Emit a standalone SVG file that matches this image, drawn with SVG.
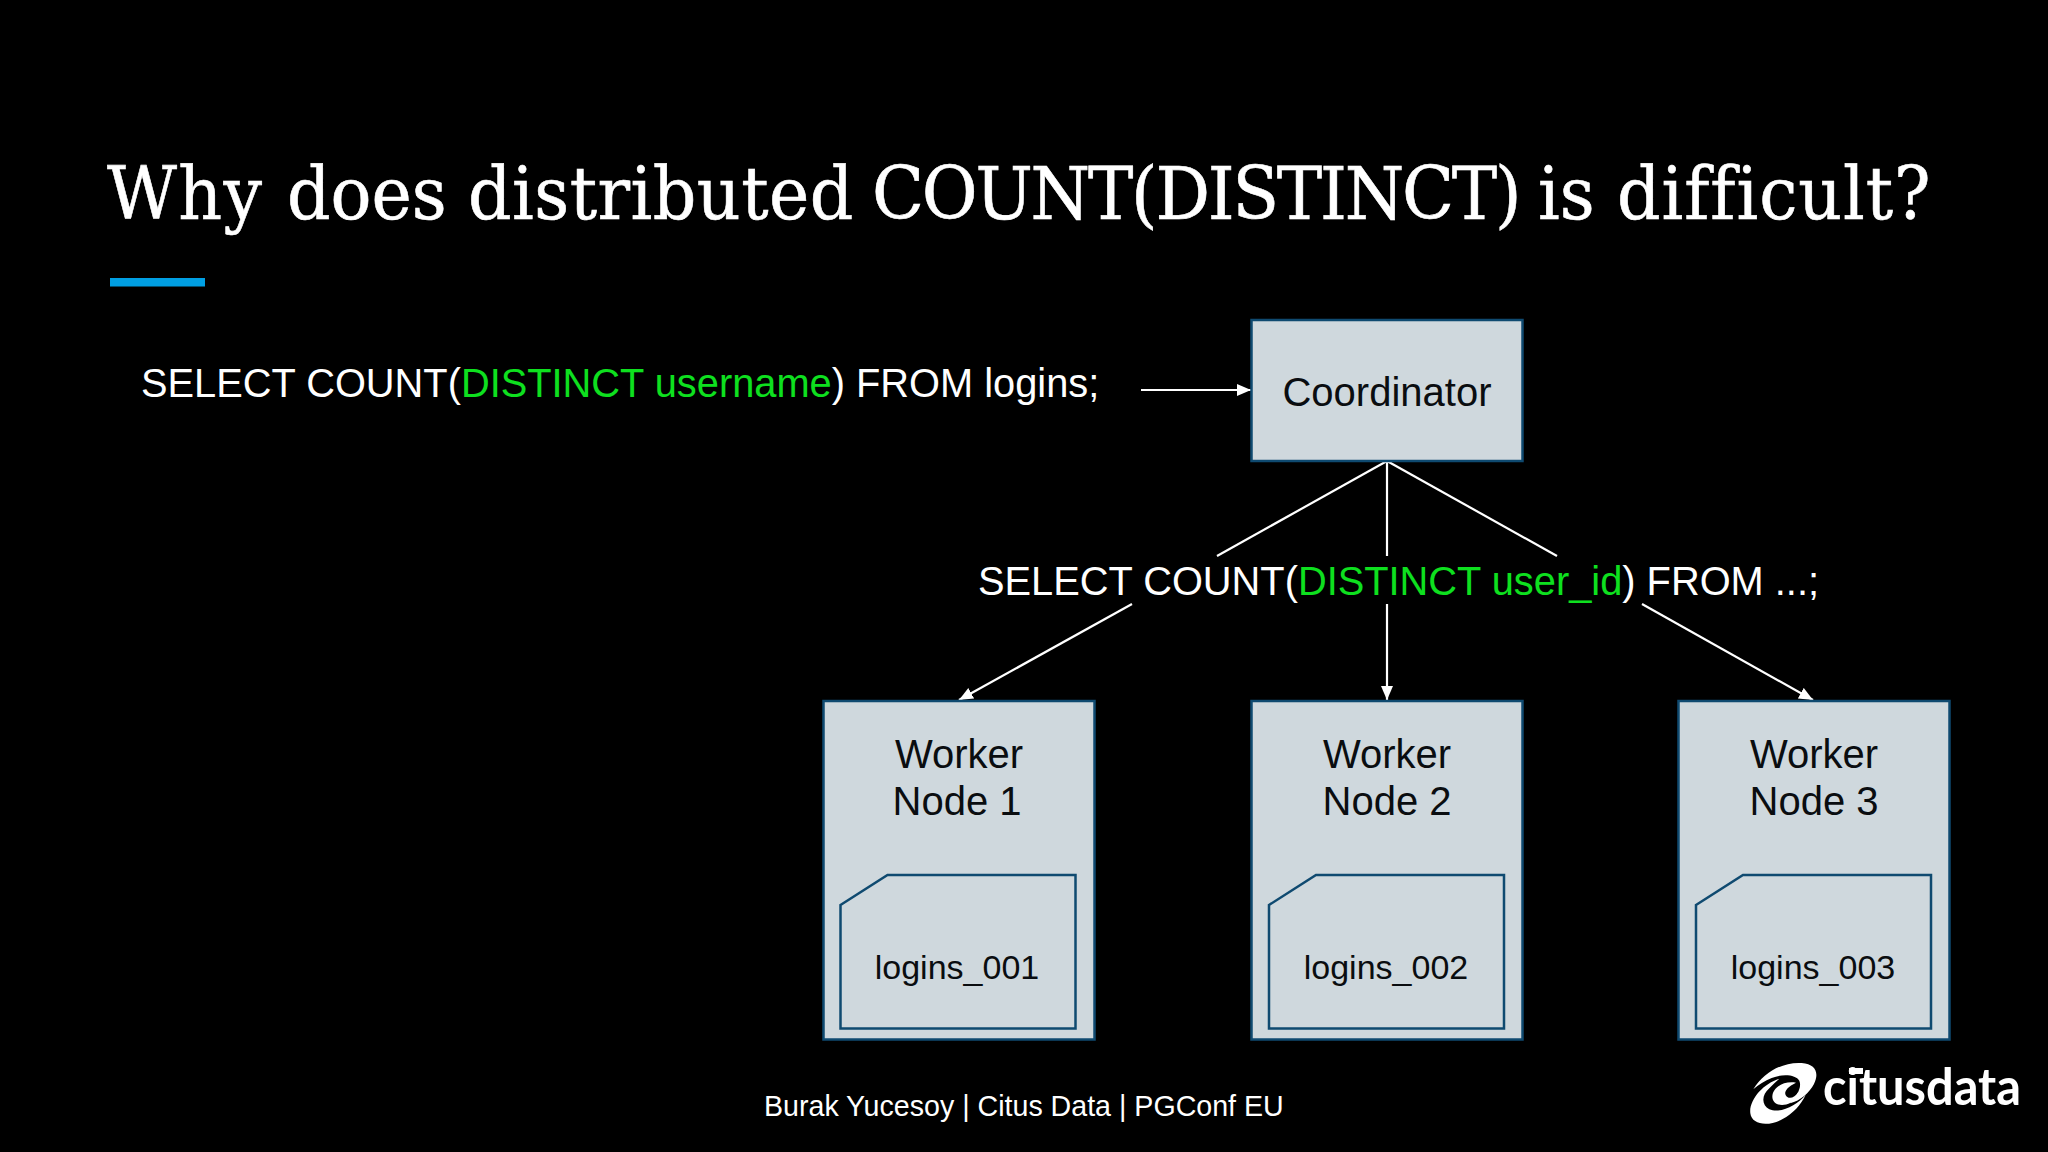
<svg xmlns="http://www.w3.org/2000/svg" width="2048" height="1152" viewBox="0 0 2048 1152">
<style>
.box{fill:#cfd8dd;stroke:#0f4a70;stroke-width:2.5}
.shard{fill:#cfd8dd;stroke:#0f4a70;stroke-width:2.5;stroke-linejoin:miter}
.lbl{font-family:"Liberation Sans",Arial,sans-serif;fill:#0a0d10;text-anchor:middle}
.n{font-size:40px}
.s{font-size:34px}
.q{font-family:"Liberation Sans",Arial,sans-serif;font-size:39.8px;fill:#fff}
.g{fill:#0ee01f}
.c{stroke:#fff;stroke-width:2.2;fill:none}
.a{marker-end:url(#arr)}
.t{font-family:"DejaVu Serif",serif;font-size:73px;fill:#fff;stroke:#fff;stroke-width:0.6;font-variant-ligatures:none}
</style>
<defs>
<marker id="arr" markerUnits="userSpaceOnUse" markerWidth="16" markerHeight="14" refX="14" refY="6" orient="auto">
<path d="M0,0 L14,6 L0,12 Z" fill="#fff"/>
</marker>
</defs>
<rect width="2048" height="1152" fill="#000"/>
<text id="title" class="t" y="219" transform="scale(0.933,1)"><tspan x="114.700" letter-spacing="1.400">Why</tspan> <tspan x="307.600">does</tspan> <tspan x="501.600" letter-spacing="0.500">distributed</tspan> <tspan x="934.600" letter-spacing="-2.400">COUNT(DISTINCT)</tspan> <tspan x="1648.400">is</tspan> <tspan x="1733.100" letter-spacing="1">difficult?</tspan></text>
<rect id="accent" x="110" y="278" width="95" height="8.500" fill="#009fe3"/>
<text id="query-main" class="q" x="141" y="397">SELECT COUNT(<tspan class="g">DISTINCT username</tspan>) FROM logins;</text>
<text id="query-worker" class="q" x="978" y="595">SELECT COUNT(<tspan class="g">DISTINCT user_id</tspan>) FROM ...;</text>
<g id="connectors">
<line class="c a" x1="1141" y1="390" x2="1251" y2="390"/>
<line class="c" x1="1387" y1="461" x2="1217" y2="556"/>
<line class="c" x1="1387" y1="461" x2="1387" y2="556"/>
<line class="c" x1="1387" y1="461" x2="1557" y2="556"/>
<line class="c a" x1="1132" y1="604" x2="959" y2="700"/>
<line class="c a" x1="1387" y1="604" x2="1387" y2="700"/>
<line class="c a" x1="1642" y1="604" x2="1813" y2="700"/>
</g>
<g id="coordinator">
<rect class="box" x="1251.500" y="320" width="271" height="141"/>
<text class="lbl n" x="1387" y="406">Coordinator</text>
</g>
<g id="worker1">
<rect class="box" x="823.500" y="701" width="271" height="338.500"/>
<text class="lbl n" x="959" y="768">Worker</text>
<text class="lbl n" x="957" y="815">Node 1</text>
<path class="shard" d="M840.500,905 L887.500,875 H1075.500 V1028.500 H840.500 Z"/>
<text class="lbl s" x="957" y="979">logins_001</text>
</g>
<g id="worker2">
<rect class="box" x="1251.500" y="701" width="271" height="338.500"/>
<text class="lbl n" x="1387" y="768">Worker</text>
<text class="lbl n" x="1387" y="815">Node 2</text>
<path class="shard" d="M1269,905 L1316,875 H1504 V1028.500 H1269 Z"/>
<text class="lbl s" x="1386" y="979">logins_002</text>
</g>
<g id="worker3">
<rect class="box" x="1678.500" y="701" width="271" height="338.500"/>
<text class="lbl n" x="1814" y="768">Worker</text>
<text class="lbl n" x="1814" y="815">Node 3</text>
<path class="shard" d="M1696,905 L1743,875 H1931 V1028.500 H1696 Z"/>
<text class="lbl s" x="1813" y="979">logins_003</text>
</g>
<text id="footer" x="764" y="1116" font-family="'Liberation Sans',Arial,sans-serif" font-size="28.6" fill="#fff">Burak Yucesoy | Citus Data | PGConf EU</text>
<g id="logo" fill="#fff">
<g transform="translate(1740,1050) scale(0.3333)">
<path d="M40,118 C70,70 125,35 185,39 C228,42 238,70 222,102 C208,128 182,152 150,160 C172,135 186,112 178,92 C168,75 130,70 95,84 C75,92 55,105 40,118 Z"/>
<path d="M118,86 C70,100 26,150 31,190 C35,226 88,230 128,207 C158,192 182,165 197,135 C172,165 122,192 88,178 C64,166 64,135 88,115 C97,105 107,95 118,86 Z"/>
<path d="M168,98 C130,92 97,113 97,140 C97,163 125,172 152,158 C168,149 175,135 175,126 C166,140 152,148 142,141 C130,133 133,115 168,98 Z"/>
</g>
<text x="1823" y="1105" font-family="Lato,'Open Sans',sans-serif" font-weight="700" font-size="52" textLength="198" lengthAdjust="spacingAndGlyphs">citusdata</text>
<rect x="1849" y="1068" width="14" height="6"/>
</g>
</svg>
